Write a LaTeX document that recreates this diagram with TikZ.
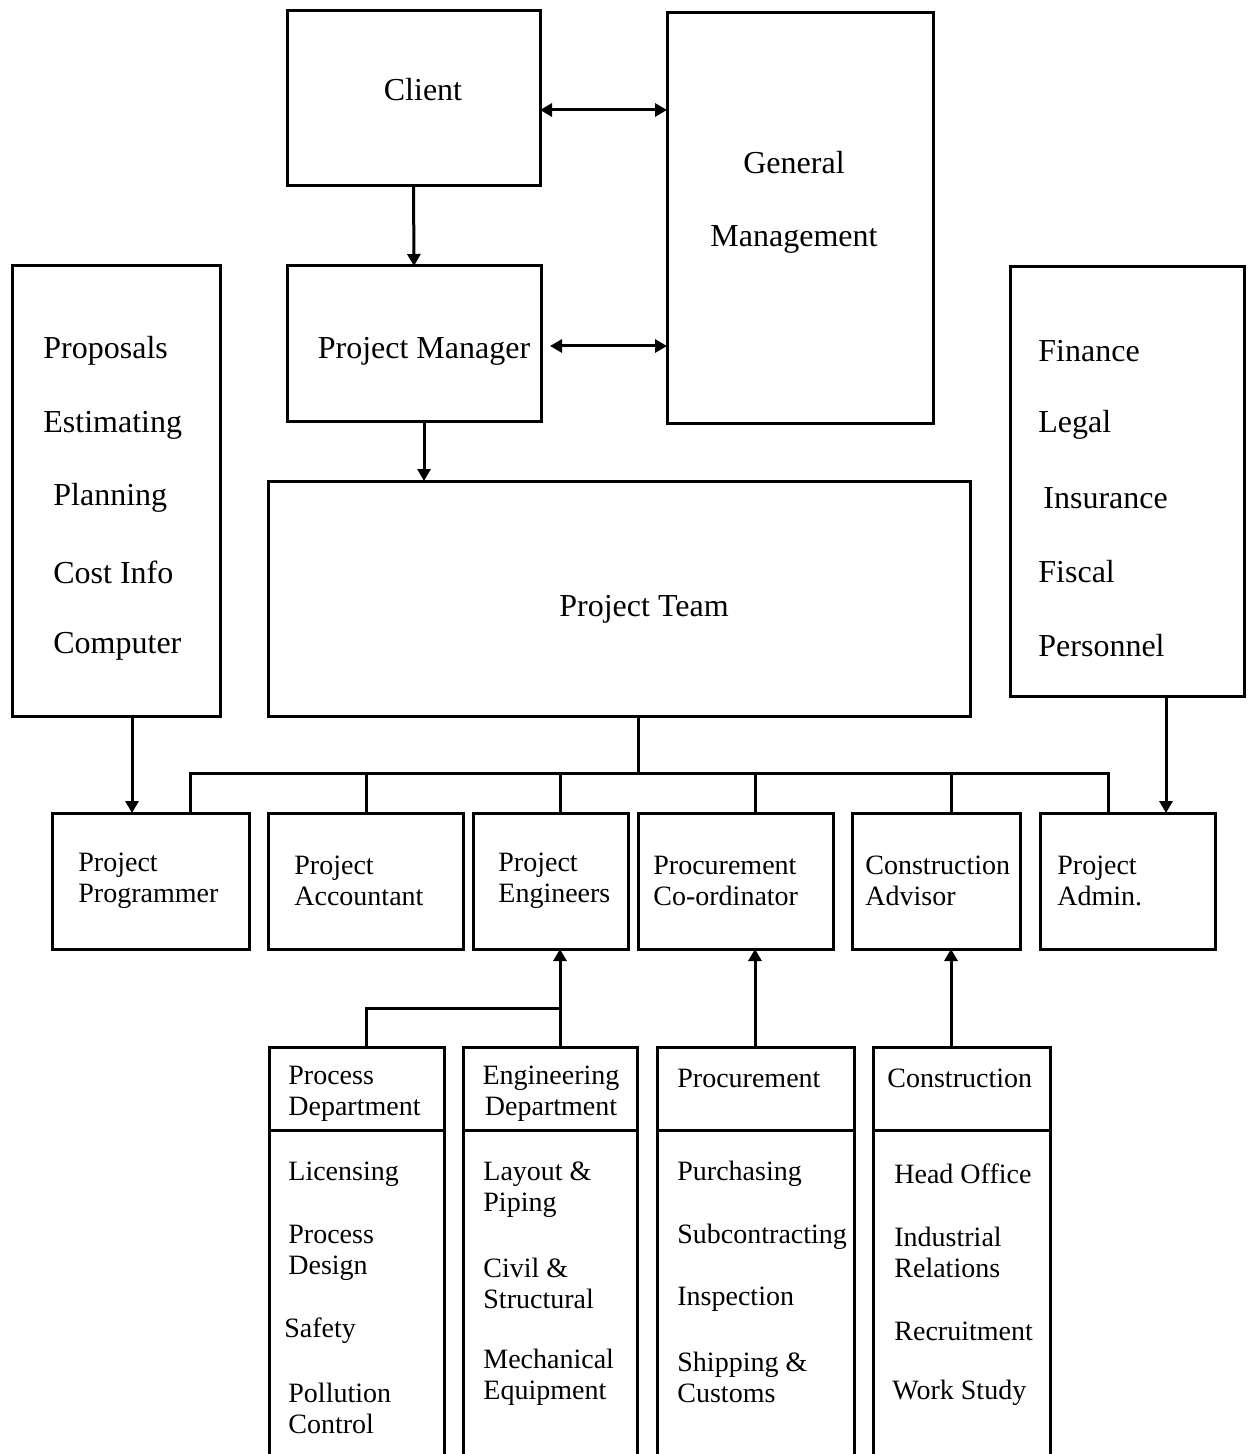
\documentclass[tikz,border=0pt]{standalone}
\usepackage{fontspec}
\setmainfont{Liberation Serif}
\usetikzlibrary{fit,arrows.meta,calc}

\begin{document}
\begin{tikzpicture}[x=0.5pt,y=-0.5pt,
  box/.style={draw, line width=1.5pt, inner sep=0pt, outer sep=0pt},
  big/.style={font=\fontsize{16}{18}\selectfont, inner sep=0pt, yshift=-1.5pt},
  bigl/.style={big, anchor=west},
  small/.style={font=\fontsize{14}{15.5}\selectfont, inner sep=0pt, align=left, anchor=west, yshift=-1pt},
  link/.style={line width=1.5pt},
  arr/.style={line width=1.5pt, -{Triangle[length=6pt,width=6.5pt]}},
  darr/.style={line width=1.5pt, {Triangle[length=6pt,width=6.5pt]}-{Triangle[length=6pt,width=6.5pt]}},
]
\clip (0,0) rectangle (1248,1454);

% upper level
\node[box, fit={(287,11) (540,186)}] (client) {};
\node[box, fit={(667,13) (933,424)}] (gm) {};
\node[box, fit={(287,266) (541,422)}] (pm) {};
\node[box, fit={(12,266) (220,716)}] (lb) {};
\node[box, fit={(1010,267) (1244,696)}] (rb) {};
\node[box, fit={(268,481) (970,716)}] (team) {};

\node[big] (tclient) at (423,87) {Client};
\node[big] (tgm1) at (794,160) {General};
\node[big] (tgm2) at (794,236) {Management};
\node[big] (tpm) at (424,348) {Project Manager};
\node[big] (tteam) at (644,606) {Project Team};

\node[bigl] (l1) at (43,348) {Proposals};
\node[bigl] (l2) at (43,422) {Estimating};
\node[bigl] (l3) at (53,495) {Planning};
\node[bigl] (l4) at (53,569) {Cost Info};
\node[bigl] (l5) at (53,643) {Computer};

\node[bigl] (r1) at (1038,348) {Finance};
\node[bigl] (r2) at (1038,422) {Legal};
\node[bigl] (r3) at (1043,495) {Insurance};
\node[bigl] (r4) at (1038,569) {Fiscal};
\node[bigl] (r5) at (1038,643) {Personnel};

% second row
\node[box, fit={(52,813) (249,949)}] (prog) {};
\node[box, fit={(268,813) (463,949)}] (acct) {};
\node[box, fit={(473,813) (628,949)}] (peng) {};
\node[box, fit={(638,813) (833,949)}] (pcoord) {};
\node[box, fit={(852,813) (1020,949)}] (cadv) {};
\node[box, fit={(1040,813) (1215,949)}] (padmin) {};

\node[small] (tprog) at (78,878.5) {Project\\Programmer};
\node[small] (tacct) at (294,878.5) {Project\\Accountant};
\node[small] (tpeng) at (498,878.5) {Project\\Engineers};
\node[small] (tpcoord) at (653,878.5) {Procurement\\Co-ordinator};
\node[small] (tcadv) at (865,878.5) {Construction\\Advisor};
\node[small] (tpadmin) at (1057,878.5) {Project\\Admin.};

% departments: header box, open body below
\node[box, fit={(269,1047) (444,1130)}] (hproc) {};
\node[box, fit={(463,1047) (637,1130)}] (heng) {};
\node[box, fit={(657,1047) (854,1130)}] (hpcr) {};
\node[box, fit={(873,1047) (1050,1130)}] (hcon) {};
\foreach \h in {hproc,heng,hpcr,hcon}{
  \draw[link] (\h.south west) -- ++(0,340);
  \draw[link] (\h.south east) -- ++(0,340);
}

\node[small] (dproc) at (288,1092) {Process\\Department};
\node[small, align=center, anchor=center] (deng) at (551,1092) {Engineering\\Department};
\node[small] (dpcr) at (677,1076) {Procurement};
\node[small] (dcon) at (887,1076) {Construction};

\node[small] (p1) at (288,1172) {Licensing};
\node[small] (p2) at (288,1250.5) {Process\\Design};
\node[small] (p3) at (284,1329) {Safety};
\node[small] (p4) at (288,1406.5) {Pollution\\Control};

\node[small] (e1) at (483,1187.5) {Layout \&\\Piping};
\node[small] (e2) at (483,1281.5) {Civil \&\\Structural};
\node[small] (e3) at (483,1375.5) {Mechanical\\Equipment};

\node[small] (q1) at (677,1172) {Purchasing};
\node[small] (q2) at (677,1235) {Subcontracting};
\node[small] (q3) at (677,1297) {Inspection};
\node[small] (q4) at (677,1375.5) {Shipping \&\\Customs};

\node[small] (c1) at (894,1172) {Head Office};
\node[small] (c2) at (894,1250.5) {Industrial\\Relations};
\node[small] (c3) at (894,1329) {Recruitment};
\node[small] (c4) at (892,1391) {Work Study};

% connectors between the upper boxes
\coordinate (yCG) at (0,110);
\coordinate (yPG) at (0,346);
\coordinate (xPT) at (424,0);
\draw[darr] (client.east |- yCG) -- (gm.west |- yCG);
\draw[darr, shorten <=4.5pt] (pm.east |- yPG) -- (gm.west |- yPG);
\draw[arr] (client.south) -- (pm.north);
\draw[arr] (pm.south -| xPT) -- (team.north -| xPT);

% distribution bus under the project team
\coordinate (trunk) at (638,773);
\coordinate (b1) at (190,773);
\coordinate (b2) at (366,773);
\coordinate (b3) at (560,773);
\coordinate (b4) at (755,773);
\coordinate (b5) at (951,773);
\coordinate (b6) at (1108,773);
\draw[link] (team.south -| trunk) -- (trunk);
\draw[link, line cap=rect] (b1) -- (b6);
\draw[link] (b1) -- (b1 |- prog.north);
\draw[link] (b2) -- (b2 |- acct.north);
\draw[link] (b3) -- (b3 |- peng.north);
\draw[link] (b4) -- (b4 |- pcoord.north);
\draw[link] (b5) -- (b5 |- cadv.north);
\draw[link] (b6) -- (b6 |- padmin.north);

% service departments
\coordinate (xL) at (132,0);
\coordinate (xR) at (1166,0);
\draw[arr] (lb.south -| xL) -- (prog.north -| xL);
\draw[arr] (rb.south -| xR) -- (padmin.north -| xR);

% departments feeding the project roles
\coordinate (xP) at (366,0);
\coordinate (xE) at (560,0);
\coordinate (yJ) at (0,1008);
\coordinate (xQ) at (755,0);
\coordinate (xC) at (951,0);
\draw[link, line join=miter] (hproc.north -| xP) -- (xP |- yJ) -- (xE |- yJ);
\draw[arr] (heng.north -| xE) -- (peng.south -| xE);
\draw[arr] (hpcr.north -| xQ) -- (pcoord.south -| xQ);
\draw[arr] (hcon.north -| xC) -- (cadv.south -| xC);
\end{tikzpicture}
\end{document}
